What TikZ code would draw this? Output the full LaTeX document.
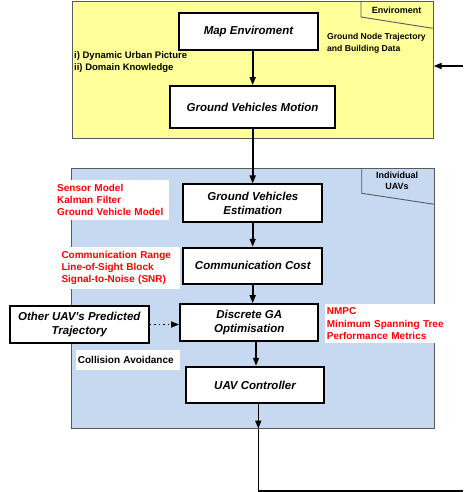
\documentclass[tikz,border=0pt]{standalone}
\usepackage{fontspec}
\setmainfont{Liberation Sans}
\usetikzlibrary{arrows.meta,calc}
\definecolor{envyellow}{RGB}{255,255,153}
\definecolor{uavblue}{RGB}{198,217,241}
\definecolor{regionline}{RGB}{90,90,90}
\begin{document}
\begin{tikzpicture}[x=1pt,y=-1pt,
  region/.style={draw=regionline, line width=0.9pt, inner sep=0pt, anchor=north west},
  tabline/.style={draw=regionline, line width=0.9pt},
  procbox/.style={draw=black, line width=1.8pt, fill=white, font=\fontsize{11.5}{14}\selectfont\bfseries\itshape, align=center, inner sep=0pt},
  arr/.style={line width=1.6pt, -{Triangle[length=8pt,width=6pt]}},
  plainline/.style={line width=1.6pt},
  sidenote/.style={font=\fontsize{8.6}{11.7}\selectfont\bfseries, align=left, inner sep=0pt, anchor=north west},
  rednote/.style={fill=white, text=red, font=\fontsize{10}{12.2}\selectfont\bfseries, align=left, anchor=north west, inner xsep=2pt, inner ysep=3.8pt},
  tablabel/.style={font=\fontsize{9}{10.5}\selectfont\bfseries, align=center, inner sep=0pt}]
\useasboundingbox (0,0) rectangle (463,492);

% regions
\node[region, fill=envyellow, minimum width=361pt, minimum height=136.7pt] (env) at (71.7,1) {};
\node[region, fill=uavblue, minimum width=363.6pt, minimum height=259.4pt] (uav) at (70.7,168.3) {};

% tabs
\draw[tabline] (361,1) -- (361,17) -- (432.7,28.3);
\node[tablabel] (envlab) at (396.7,10) {Enviroment};
\draw[tabline] (361.7,168.3) -- (361.7,193.3) -- (434.3,204.3);
\node[tablabel] (uavlab) at (397,181) {Individual\\UAVs};

% side notes
\node[sidenote] (gntd) at (327,33.5) {Ground Node Trajectory\\and Building Data};
\node[sidenote, font=\fontsize{9.5}{11.7}\selectfont\bfseries] (dyn) at (74,51.5) {i) Dynamic Urban Picture\\ii) Domain Knowledge};

\node[rednote, text width=110pt] (sensor) at (55,180) {Sensor Model\\Kalman Filter\\Ground Vehicle Model};
\node[rednote, text width=116pt] (comm) at (59.3,247) {Communication Range\\Line-of-Sight Block\\Signal-to-Noise (SNR)};
\node[rednote, text width=118pt, inner xsep=1.7pt] (nmpc) at (325,304) {NMPC\\Minimum Spanning Tree\\Performance Metrics};
\node[fill=white, font=\fontsize{10}{12.2}\selectfont\bfseries, text width=100pt, align=left, inner xsep=1.7pt, inner ysep=0pt, minimum height=20.7pt, anchor=north west] (coll) at (76,349.3) {Collision Avoidance};

% process boxes
\node[procbox, minimum width=139pt, minimum height=37pt] (map) at (248.5,31.5) {Map Enviroment};
\node[procbox, minimum width=165pt, minimum height=42pt] (gvm) at (252.5,107) {Ground Vehicles Motion};
\node[procbox, minimum width=139pt, minimum height=37.7pt] (gve) at (252.8,203.2) {Ground Vehicles\\Estimation};
\node[procbox, minimum width=139pt, minimum height=36.3pt] (cc) at (252.8,265.8) {Communication Cost};
\node[procbox, minimum width=138.3pt, minimum height=37pt] (dga) at (249.2,322.5) {Discrete GA\\Optimisation};
\node[procbox, minimum width=138.7pt, minimum height=37.6pt] (other) at (79.3,324.5) {Other UAV's Predicted\\Trajectory};
\node[procbox, minimum width=138.6pt, minimum height=36.6pt] (uavc) at (255,385) {UAV Controller};

% connectors
\coordinate (xa) at (252.7,0);
\coordinate (xb) at (256,0);
\coordinate (xc) at (258.3,0);
\draw[arr] (map.south -| xa) -- (gvm.north -| xa);
\draw[arr] (gvm.south -| xa) -- (gve.north -| xa);
\draw[arr] (gve.south -| xa) -- (cc.north -| xa);
\draw[arr] (cc.south -| xa) -- (dga.north -| xa);
\draw[arr] (dga.south -| xb) -- (uavc.north -| xb);
\draw[arr] (uavc.south -| xc) -- (uav.south -| xc);
\coordinate (corner) at (258.3,490.8);
\coordinate (exitR) at (463,490.8);
\draw[plainline] (uav.south -| xc) -- (corner) -- (exitR);
\coordinate (entryR) at (463,66);
\draw[arr] (entryR) -- (env.east |- entryR);
\draw[arr, dash pattern=on 1.5pt off 3pt, line width=1.3pt] (other.east) -- (dga.west |- other.east);
\end{tikzpicture}
\end{document}
